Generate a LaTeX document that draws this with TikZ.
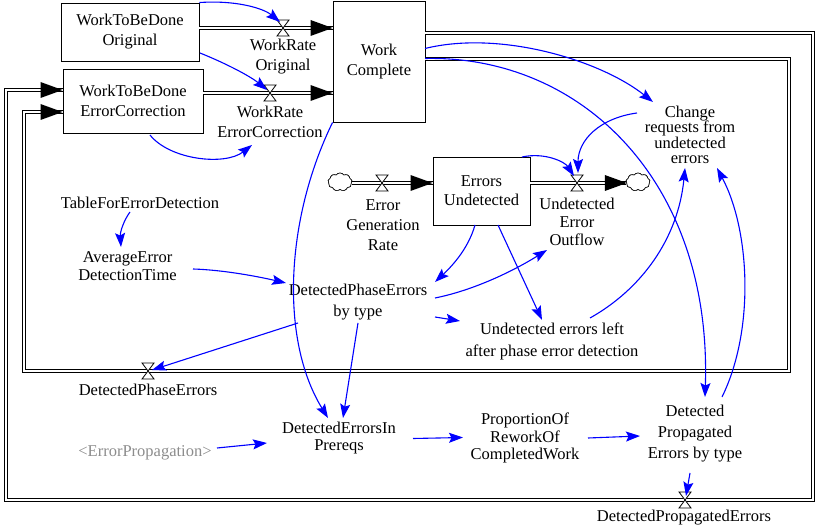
\documentclass[tikz,border=0pt]{standalone}
\usepackage{fontspec}
\setmainfont{Liberation Serif}
\usetikzlibrary{arrows.meta,shapes.symbols}
\begin{document}
\begin{tikzpicture}[x=1pt,y=-1pt,
  every node/.style={font=\fontsize{16.5}{20}\selectfont, align=center, inner sep=0pt},
  stock/.style={draw, line width=0.9pt, fill=white},
  ghost/.style={text=black!45},
  pipe/.style={draw=black, line width=1pt, double=white, double distance=2.4pt},
  conn/.style={draw={rgb,255:red,0;green,0;blue,255}, line width=1.1pt,
    -{Stealth[length=14pt,width=10pt,inset=2.5pt]}},
  puff/.style={cloud, cloud puffs=9, cloud puff arc=110, draw, line width=0.6pt,
    fill=white, minimum width=24pt, minimum height=18pt, aspect=1.4},
  pics/valve/.style={code={
    \draw[line width=0.8pt, fill=white] (-6,-8) -- (6,-8) -- (-6,8) -- (6,8) -- cycle;}},
  pics/pipehead/.style={code={
    \fill (0,0) -- (-22,-8) -- (-22,8) -- cycle;}}
]
\useasboundingbox (0,0) rectangle (817,529);

% ---- stocks ----
\node[stock, minimum width=138pt, minimum height=58pt] (wtbo) at (130,32)
  {WorkToBeDone\\Original};
\node[stock, minimum width=140pt, minimum height=64pt] (wtbec) at (133,101)
  {WorkToBeDone\\ErrorCorrection};
\node[stock, minimum width=92pt, minimum height=121pt] (wc) at (379,61.5)
  {Work\\Complete};
\node[stock, minimum width=97pt, minimum height=68pt, font=\fontsize{16.5}{19}\selectfont]
  (eu) at (481.5,191) {Errors\\Undetected};

% ---- valves and clouds ----
\coordinate (vwro) at (283,28);
\coordinate (vwrec) at (270,93);
\coordinate (vegr) at (382,183);
\coordinate (vueo) at (577,183);
\coordinate (vdpe) at (148,371);
\coordinate (vdpre) at (685,500);
\node[puff] (cegr) at (340,182) {};
\node[puff] (cueo) at (638,182) {};

% corners of the two return pipes
\coordinate (o1) at (813,33);
\coordinate (o2) at (813,500);
\coordinate (o3) at (6,500);
\coordinate (o4) at (6,90);
\coordinate (i1) at (789,59);
\coordinate (i2) at (789,371);
\coordinate (i3) at (24,371);
\coordinate (i4) at (24,112);

% ---- pipes ----
\draw[pipe] (wtbo.east |- vwro) -- (wc.west |- vwro);
\pic at (wc.west |- vwro) {pipehead};
\draw[pipe] (wtbec.east |- vwrec) -- (wc.west |- vwrec);
\pic at (wc.west |- vwrec) {pipehead};
\draw[pipe] (cegr.east |- vegr) -- (eu.west |- vegr);
\pic at (eu.west |- vegr) {pipehead};
\draw[pipe] (eu.east |- vueo) -- (cueo.west |- vueo);
\pic at ([xshift=1pt]cueo.west |- vueo) {pipehead};
\draw[pipe] (wc.east |- o1) -- (o1) -- (o2) -- (o3) -- (o4) -- (wtbec.west |- o4);
\pic at (wtbec.west |- o4) {pipehead};
\draw[pipe] (wc.east |- i1) -- (i1) -- (i2) -- (i3) -- (i4) -- (wtbec.west |- i4);
\pic at (wtbec.west |- i4) {pipehead};

\foreach \v in {vwro,vwrec,vegr,vueo,vdpe,vdpre} \pic at (\v) {valve};
\node[puff] at (cegr) {};
\node[puff] at (cueo) {};

% ---- flow and auxiliary labels ----
\node (lwro) at (283,57) {WorkRate\\Original};
\node (lwrec) at (270,122) {WorkRate\\ErrorCorrection};
\node (legr) at (383,225) {Error\\Generation\\Rate};
\node[font=\fontsize{16.5}{18}\selectfont] (lueo) at (577,222) {Undetected\\Error\\Outflow};
\node[font=\fontsize{16.5}{15.5}\selectfont] (lcr) at (690,135)
  {Change\\requests from\\undetected\\errors};
\node (ltfed) at (140,203) {TableForErrorDetection};
\node[font=\fontsize{16.5}{18}\selectfont] (laedt) at (127.5,266)
  {AverageError\\DetectionTime};
\node[font=\fontsize{16.5}{21.5}\selectfont] (ldpebt) at (358,302)
  {DetectedPhaseErrors\\by type};
\node[font=\fontsize{16.5}{22}\selectfont] (luel) at (552,341)
  {Undetected errors left\\after phase error detection};
\node (ldpe) at (148,390) {DetectedPhaseErrors};
\node[font=\fontsize{16.5}{16.5}\selectfont] (lprereq) at (339,438)
  {DetectedErrorsIn\\Prereqs};
\node[ghost] (lep) at (145,453) {<ErrorPropagation>};
\node[font=\fontsize{16.5}{17.5}\selectfont] (lprop) at (525,438)
  {ProportionOf\\ReworkOf\\CompletedWork};
\node[font=\fontsize{16.5}{21}\selectfont] (ldprop) at (695,434)
  {Detected\\Propagated\\Errors by type};
\node (ldpre) at (684,518) {DetectedPropagatedErrors};

% ---- information links ----
\draw[conn] (wtbo.north east) .. controls (235,0) and (263,8) .. ([shift={(-3,-6)}]vwro);
\draw[conn] ([shift={(70,21)}]wtbo.center) .. controls (225,63) and (250,76) .. ([shift={(-3,-3)}]vwrec);
\draw[conn] ([shift={(17,34)}]wtbec.center) .. controls (170,160) and (225,166) .. ([shift={(-18,23)}]lwrec.center);
\draw[conn] ([shift={(46,-13)}]wc.center) .. controls (500,30) and (600,60) .. ([shift={(-37,-33)}]lcr.center);
\draw[conn] ([shift={(46,-3)}]wc.center) .. controls (580,55) and (712,180) .. ([shift={(10,-37)}]ldprop.center);
\draw[conn] (wc.south west) .. controls (285,220) and (280,340) .. ([shift={(-11,-20)}]lprereq.center);
\draw[conn] ([shift={(-53,-22)}]lcr.center) .. controls (600,118) and (578,140) .. ([shift={(1,-10)}]vueo);
\draw[conn] ([shift={(40.5,-34)}]eu.center) .. controls (545,152) and (565,162) .. ([shift={(-3,-7)}]vueo);
\draw[conn] ([shift={(-6.5,34)}]eu.center) .. controls (468,250) and (450,268) .. ([shift={(77,-20)}]ldpebt.center);
\draw[conn] ([shift={(16.5,34)}]eu.center) -- ([shift={(-10,-21)}]luel.center);
\draw[conn] ([shift={(77,-4)}]ldpebt.center) .. controls (475,290) and (515,270) .. ([shift={(-30,28)}]lueo.center);
\draw[conn] ([shift={(77,15)}]ldpebt.center) -- ([shift={(-92,-20)}]luel.center);
\draw[conn] ([shift={(38,-23)}]luel.center) .. controls (640,290) and (678,240) .. ([shift={(-5,33)}]lcr.center);
\draw[conn] ([shift={(27,-37)}]ldprop.center) .. controls (755,330) and (750,230) .. ([shift={(27,33)}]lcr.center);
\draw[conn] ([shift={(65.5,3)}]laedt.center) .. controls (225,270) and (260,277) .. ([shift={(-72,-19)}]ldpebt.center);
\draw[conn] ([shift={(-10,9)}]ltfed.center) .. controls (124,220) and (120,232) .. ([shift={(-6.5,-19)}]laedt.center);
\draw[conn] ([shift={(-60,21)}]ldpebt.center) -- ([shift={(4,-1)}]vdpe);
\draw[conn] ([shift={(0,21)}]ldpebt.center) -- ([shift={(4,-20)}]lprereq.center);
\draw[conn] ([shift={(72,-5)}]lep.center) -- ([shift={(-72,5)}]lprereq.center);
\draw[conn] ([shift={(74,0.5)}]lprereq.center) -- ([shift={(-62,-0.5)}]lprop.center);
\draw[conn] ([shift={(63,0)}]lprop.center) -- ([shift={(-55,2)}]ldprop.center);
\draw[conn] ([shift={(-5,39)}]ldprop.center) -- ([shift={(1,-4)}]vdpre);
\end{tikzpicture}
\end{document}
